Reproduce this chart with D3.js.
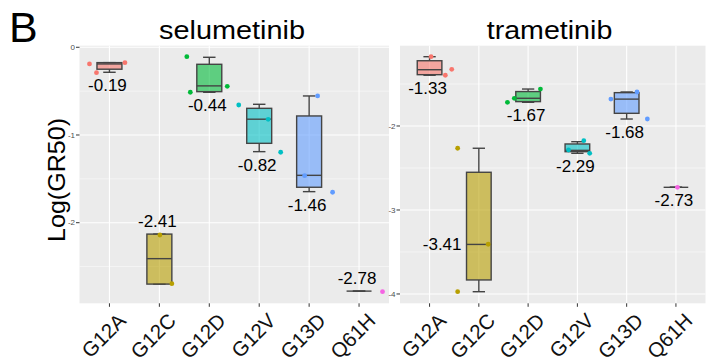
<!DOCTYPE html>
<html>
<head>
<meta charset="utf-8">
<script src="https://cdn.jsdelivr.net/npm/d3@7"></script>
<style>
  body { margin: 0; background: #fff; }
  svg { display: block; font-family: "Liberation Sans", Arial, sans-serif; }
  .panel { fill: #EBEBEB; }
  .gridMajor { stroke: #fff; stroke-width: 1.1; }
  .gridMinor { stroke: #fff; stroke-width: 0.5; }
  .tick { stroke: #333; stroke-width: 1; }
  .tickLabel { fill: #4D4D4D; font-size: 8px; }
  .catLabel { fill: #111; font-size: 20.5px; }
  .box { stroke: #444; stroke-width: 1.4; }
  .medianText { fill: #000; font-size: 17px; }
</style>
</head>
<body>
<div id="chart"></div>
<script>
// categories and group colours (ggplot hue palette)
const categories = ["G12A", "G12C", "G12D", "G12V", "G13D", "Q61H"];
const colors = ["#F8766D", "#B79F00", "#00BA38", "#00BFC4", "#619CFF", "#F564E3"];

// selumetinib box stats, per category
const selLow    = [-0.285, -2.70, -0.513, -1.19,  -1.646, -2.78];
const selQ1     = [-0.25,  -2.70, -0.506, -1.095, -1.596, -2.78];
const selMedian = [-0.19,  -2.41, -0.44,  -0.82,  -1.46,  -2.78];
const selQ3     = [-0.175, -2.13, -0.194, -0.696, -0.783, -2.78];
const selHigh   = [-0.175, -2.13, -0.114, -0.65,  -0.555, -2.78];
// [category, value, jitter in category steps]
const selPoints = [
    ["G12A", -0.19, -0.40], ["G12A", -0.29, -0.26], ["G12A", -0.176, 0.31],
    ["G12C", -2.14, 0.01], ["G12C", -2.695, 0.25],
    ["G12D", -0.107, -0.45], ["G12D", -0.513, -0.38], ["G12D", -0.445, 0.36],
    ["G12V", -0.658, -0.41], ["G12V", -0.821, 0.18], ["G12V", -1.197, 0.43],
    ["G13D", -1.464, -0.09], ["G13D", -0.555, 0.17], ["G13D", -1.653, 0.47],
    ["Q61H", -2.787, 0.47]
];
const selLabelPlace = ["below", "above", "below", "below", "below", "above"];
const selTicks = [0, -1, -2];
const selMinor = [-0.5, -1.5, -2.5];

// trametinib box stats, per category
const tramLow    = [-1.396, -3.973, -1.718, -2.325, -1.917, -2.73];
const tramQ1     = [-1.389, -3.833, -1.71,  -2.306, -1.849, -2.73];
const tramMedian = [-1.33,  -3.41,  -1.67,  -2.29,  -1.68,  -2.73];
const tramQ3     = [-1.223, -2.551, -1.59,  -2.214, -1.603, -2.73];
const tramHigh   = [-1.175, -2.265, -1.56,  -2.187, -1.595, -2.73];
const tramPoints = [
    ["G12A", -1.175, 0.03], ["G12A", -1.396, 0.32], ["G12A", -1.325, 0.45],
    ["G12C", -2.265, -0.43], ["G12C", -3.408, 0.19], ["G12C", -3.973, -0.43],
    ["G12D", -1.718, -0.42], ["G12D", -1.67, -0.28], ["G12D", -1.56, 0.25],
    ["G12V", -2.286, -0.18], ["G12V", -2.175, 0.13], ["G12V", -2.325, 0.25],
    ["G13D", -1.68, -0.32], ["G13D", -1.595, 0.21], ["G13D", -1.917, 0.42],
    ["Q61H", -2.73, 0.03]
];
const tramLabelPlace = ["below", "left", "below", "below", "below", "below"];
const tramTicks = [-2, -3, -4];
const tramMinor = [-1.5, -2.5, -3.5];

const width = 715, height = 364;
const panelTop = 45.7, panelBottom = 303.3;

let svg = d3.select("#chart").append("svg")
    .attr("width", width)
    .attr("height", height);

function drawPanel(p) {
    let x = d3.scalePoint()
        .domain(categories)
        .range([p.left, p.right])
        .padding(0.6);
    let y = d3.scaleLinear()
        .domain(p.domain)
        .range([panelBottom, panelTop]);
    let step = x.step();
    let boxW = step * 0.5, capW = step * 0.25;

    let g = svg.append("g");

    g.append("rect").attr("class", "panel")
        .attr("x", p.left).attr("y", panelTop)
        .attr("width", p.right - p.left).attr("height", panelBottom - panelTop);

    // grid
    g.selectAll(".gridMinor").data(p.minor).enter().append("line")
        .attr("class", "gridMinor")
        .attr("x1", p.left).attr("x2", p.right)
        .attr("y1", d => y(d)).attr("y2", d => y(d));
    g.selectAll(".gridY").data(p.ticks).enter().append("line")
        .attr("class", "gridMajor")
        .attr("x1", p.left).attr("x2", p.right)
        .attr("y1", d => y(d)).attr("y2", d => y(d));
    g.selectAll(".gridX").data(categories).enter().append("line")
        .attr("class", "gridMajor")
        .attr("x1", d => x(d)).attr("x2", d => x(d))
        .attr("y1", panelTop).attr("y2", panelBottom);

    // y axis ticks + labels
    g.selectAll(".yt").data(p.ticks).enter().append("line")
        .attr("class", "tick")
        .attr("x1", p.left - 3.5).attr("x2", p.left)
        .attr("y1", d => y(d)).attr("y2", d => y(d));
    g.selectAll(".yl").data(p.ticks).enter().append("text")
        .attr("class", "tickLabel")
        .attr("x", p.left - 4.5)
        .attr("y", d => y(d))
        .attr("dy", "0.35em")
        .attr("text-anchor", "end")
        .text(d => d);

    // x axis ticks + rotated labels
    g.selectAll(".xt").data(categories).enter().append("line")
        .attr("class", "tick")
        .attr("x1", d => x(d)).attr("x2", d => x(d))
        .attr("y1", panelBottom).attr("y2", panelBottom + 3.5);
    g.selectAll(".xl").data(categories).enter().append("text")
        .attr("class", "catLabel")
        .attr("text-anchor", "end")
        .attr("dominant-baseline", "hanging")
        .attr("transform", d => "translate(" + (x(d) + 7) + "," + (panelBottom + 8) + ") rotate(-45)")
        .text(d => d);

    // boxplots
    categories.forEach(function (c, i) {
        let cx = x(c);
        let bg = g.append("g");
        // whiskers + caps
        bg.append("line").attr("class", "box")
            .attr("x1", cx).attr("x2", cx)
            .attr("y1", y(p.high[i])).attr("y2", y(p.q3[i]));
        bg.append("line").attr("class", "box")
            .attr("x1", cx).attr("x2", cx)
            .attr("y1", y(p.q1[i])).attr("y2", y(p.low[i]));
        [p.high[i], p.low[i]].forEach(function (v) {
            bg.append("line").attr("class", "box")
                .attr("x1", cx - capW / 2).attr("x2", cx + capW / 2)
                .attr("y1", y(v)).attr("y2", y(v));
        });
        bg.append("rect").attr("class", "box")
            .attr("x", cx - boxW / 2)
            .attr("y", y(p.q3[i]))
            .attr("width", boxW)
            .attr("height", Math.max(0, y(p.q1[i]) - y(p.q3[i])))
            .attr("fill", colors[i])
            .attr("fill-opacity", 0.6);
        bg.append("line").attr("class", "box")
            .attr("x1", cx - boxW / 2).attr("x2", cx + boxW / 2)
            .attr("y1", y(p.median[i])).attr("y2", y(p.median[i]));
    });

    // jittered points
    g.selectAll(".pt").data(p.points).enter().append("circle")
        .attr("cx", d => x(d[0]) + d[2] * step)
        .attr("cy", d => y(d[1]))
        .attr("r", 2.4)
        .attr("fill", d => colors[categories.indexOf(d[0])]);

    // median labels
    categories.forEach(function (c, i) {
        let pts = p.points.filter(d => d[0] == c).map(d => d[1]);
        let minV = d3.min(pts.concat([p.low[i]]));
        let maxV = d3.max(pts.concat([p.high[i]]));
        let t = g.append("text")
            .attr("class", "medianText")
            .text(p.median[i].toFixed(2));
        if (p.place[i] == "below") {
            t.attr("x", x(c) - 2).attr("y", y(minV) + 18.5).attr("text-anchor", "middle");
        } else if (p.place[i] == "above") {
            t.attr("x", x(c) - 2).attr("y", y(maxV) - 7).attr("text-anchor", "middle");
        } else {
            t.attr("x", x(c) - boxW / 2 - 5).attr("y", y(p.median[i]) + 6).attr("text-anchor", "end");
        }
    });

    // panel title
    svg.append("text")
        .attr("x", p.titleX).attr("y", 38.5)
        .attr("text-anchor", "middle")
        .attr("font-size", "26px")
        .attr("textLength", p.titleLen)
        .attr("lengthAdjust", "spacingAndGlyphs")
        .text(p.title);
}

drawPanel({
    title: "selumetinib", titleX: 232, titleLen: 146,
    left: 79.5, right: 389, domain: [-2.919, 0.018],
    ticks: selTicks, minor: selMinor,
    low: selLow, q1: selQ1, median: selMedian, q3: selQ3, high: selHigh,
    points: selPoints, place: selLabelPlace
});
drawPanel({
    title: "trametinib", titleX: 549.5, titleLen: 125.6,
    left: 400, right: 705.5, domain: [-4.111, -1.044],
    ticks: tramTicks, minor: tramMinor,
    low: tramLow, q1: tramQ1, median: tramMedian, q3: tramQ3, high: tramHigh,
    points: tramPoints, place: tramLabelPlace
});

// y axis title
svg.append("text")
    .attr("transform", "translate(65,180) rotate(-90)")
    .attr("text-anchor", "middle")
    .attr("font-size", "24px")
    .attr("textLength", 124)
    .attr("lengthAdjust", "spacingAndGlyphs")
    .text("Log(GR50)");

// figure letter
svg.append("text")
    .attr("x", 9).attr("y", 42)
    .attr("font-size", "43px")
    .text("B");
</script>
</body>
</html>
